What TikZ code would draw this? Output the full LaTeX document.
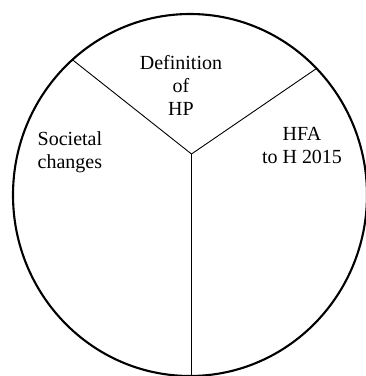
\documentclass[tikz,border=0pt]{standalone}
\usepackage{fontspec}
\setmainfont{Liberation Serif}
\usetikzlibrary{shapes.geometric}

\begin{document}
\begin{tikzpicture}[x=1pt, y=-1pt,
    sector/.style={inner sep=0, font=\fontsize{20}{23}\selectfont, anchor=north}]
            \useasboundingbox (0, 0) rectangle (366, 376);

            \node (ring) at (190, 195) [ellipse, draw, line width=2.1pt, minimum width=354pt, minimum height=362pt, inner sep=0, outer sep=0] {};

            \coordinate (hub) at (191.5, 154);

            \draw[line width=.9pt] (hub) to (ring.131.8);
            \draw[line width=.9pt] (hub) to (ring.45.6);
            \draw[line width=.9pt] (hub) to (hub |- ring.south);

            \node (def) at (181, 55.6) [sector, align=center] {Definition\\of\\HP};
            \node (soc) at (37.5, 131.3) [sector, align=left, anchor=north west] {Societal\\changes};
            \node (hfa) at (302, 126.8) [sector, align=center] {HFA\\to H 2015};
        \end{tikzpicture}
\end{document}
